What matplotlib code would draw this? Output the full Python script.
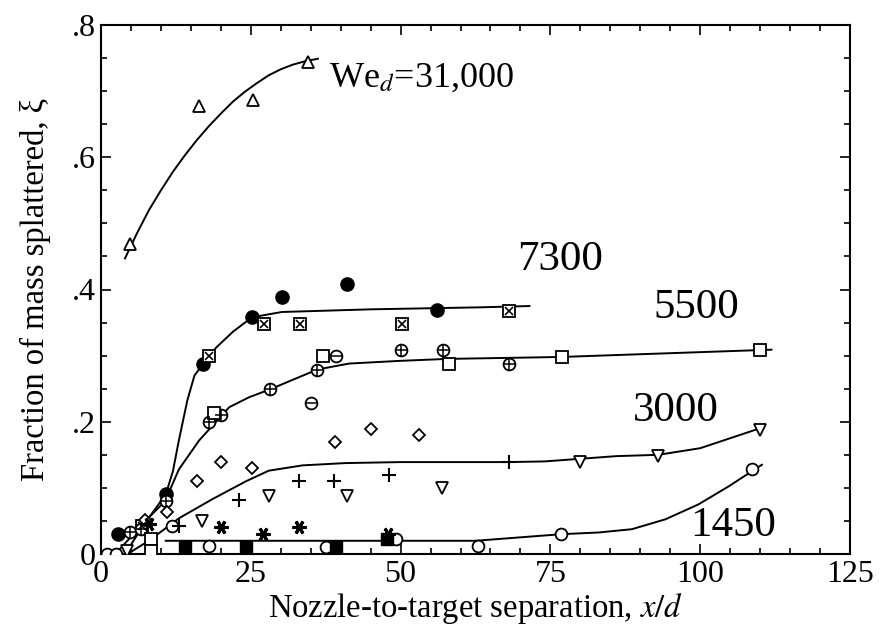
import matplotlib
matplotlib.use("Agg")
import matplotlib.pyplot as plt
from matplotlib.ticker import MultipleLocator, FixedLocator, FixedFormatter

plt.rcParams['font.family'] = ['Liberation Serif', 'DejaVu Serif']
plt.rcParams['mathtext.fontset'] = 'stix'

# ---- We_d = 31,000 (open up-triangles) ----
w31000_x = [4.9, 16.4, 25.4, 34.6]
w31000_y = [0.469, 0.677, 0.687, 0.744]
c31000_x = [4.0, 6.0, 8.0, 10.0, 12.0, 14.0, 16.0, 18.0, 20.0, 22.0, 24.0, 26.0, 28.0, 30.0, 32.0, 34.0, 36.2]
c31000_y = [0.447, 0.485, 0.52, 0.55, 0.578, 0.603, 0.626, 0.647, 0.666, 0.684, 0.699, 0.712, 0.724, 0.733, 0.740, 0.745, 0.749]

# ---- 7300 (filled circles, boxed crosses) ----
w7300_fc_x = [2.8, 10.9, 17.1, 25.2, 30.2, 41.0, 56.1]
w7300_fc_y = [0.031, 0.09, 0.288, 0.358, 0.388, 0.408, 0.369]
w7300_bx_x = [6.8, 18.1, 27.2, 33.2, 50.2, 68.1]
w7300_bx_y = [0.042, 0.299, 0.348, 0.348, 0.348, 0.367]
c7300_x = [4.0, 7.2, 10.8, 12.0, 13.0, 14.4, 15.6, 17.1, 19.2, 22.0, 25.2, 30.2, 45.0, 63.0, 71.5]
c7300_y = [0.0, 0.045, 0.09, 0.125, 0.172, 0.232, 0.27, 0.288, 0.312, 0.336, 0.358, 0.366, 0.37, 0.373, 0.375]

# ---- 5500 (circled plus, squares, circled minus) ----
w5500_cp_x = [4.9, 6.6, 10.8, 18.1, 20.0, 28.2, 36.1, 50.1, 57.0, 68.1]
w5500_cp_y = [0.033, 0.038, 0.08, 0.2, 0.21, 0.249, 0.279, 0.309, 0.309, 0.288]
w5500_sq_x = [8.3, 8.3, 18.9, 37.0, 58.0, 76.9, 110.0]
w5500_sq_y = [0.022, 0.005, 0.213, 0.299, 0.288, 0.298, 0.309]
w5500_cm_x = [35.1, 39.2]
w5500_cm_y = [0.229, 0.299]
c5500_x = [2.7, 7.2, 10.7, 13.0, 16.4, 21.4, 24.7, 28.2, 36.1, 41.4, 49.7, 57.6, 76.9, 111.9]
c5500_y = [0.003, 0.048, 0.08, 0.128, 0.172, 0.222, 0.237, 0.249, 0.279, 0.288, 0.292, 0.295, 0.298, 0.309]

# ---- 3000 (diamonds, plus, down-triangles) ----
w3000_dm_x = [7.4, 11.0, 16.0, 20.0, 25.2, 39.0, 45.0, 53.0]
w3000_dm_y = [0.052, 0.063, 0.11, 0.139, 0.13, 0.17, 0.189, 0.18]
w3000_pl_x = [13.0, 23.0, 33.0, 38.9, 48.1, 68.1]
w3000_pl_y = [0.042, 0.081, 0.11, 0.11, 0.12, 0.139]
w3000_dt_x = [4.4, 16.9, 28.0, 41.0, 56.9, 80.0, 92.9, 110.0]
w3000_dt_y = [0.005, 0.05, 0.088, 0.088, 0.1, 0.139, 0.148, 0.187]
c3000_x = [4.4, 8.0, 13.0, 18.6, 24.2, 28.0, 33.6, 40.8, 50.0, 68.0, 74.0, 86.0, 93.0, 100.0, 110.6]
c3000_y = [0.0, 0.02, 0.054, 0.083, 0.11, 0.126, 0.134, 0.1375, 0.139, 0.139, 0.14, 0.148, 0.15, 0.16, 0.192]

# ---- 1450 (open circles, filled squares, asterisks) ----
w1450_oc_x = [1.0, 2.5, 11.9, 18.0, 37.6, 49.2, 62.9, 76.8, 108.7]
w1450_oc_y = [0.0, 0.0, 0.042, 0.0115, 0.01, 0.0225, 0.0125, 0.031, 0.129]
w1450_fs_x = [14.0, 24.2, 39.2, 47.8]
w1450_fs_y = [0.01, 0.01, 0.01, 0.0225]
w1450_as_x = [8.0, 20.0, 27.0, 33.0, 47.9]
w1450_as_y = [0.045, 0.041, 0.03, 0.041, 0.03]
c1450_x = [10.8, 30.0, 50.0, 62.5, 76.9, 83.0, 88.6, 94.2, 99.7, 104.7, 110.3]
c1450_y = [0.02, 0.02, 0.02, 0.02, 0.03, 0.0325, 0.0375, 0.0525, 0.075, 0.102, 0.135]

xticks = [0, 25, 50, 75, 100, 125]
xticklabels = ['0', '25', '50', '75', '100', '125']
yticks = [0, 0.2, 0.4, 0.6, 0.8]
yticklabels = ['0', '.2', '.4', '.6', '.8']

labels = ['We$_{\\mathit{d}}$=31,000', '7300', '5500', '3000', '1450']
label_x = [38.0, 69.4, 92.2, 88.7, 98.4]
label_y = [0.72, 0.445, 0.372, 0.217, 0.043]

fig = plt.figure(figsize=(8.8, 6.31), dpi=100)
ax = fig.add_axes([101/880, 1 - 554/631, (850 - 101)/880, (554 - 25)/631])

lw = 1.4
for cx, cy in [(c31000_x, c31000_y), (c7300_x, c7300_y), (c5500_x, c5500_y),
               (c3000_x, c3000_y), (c1450_x, c1450_y)]:
    ax.plot(cx, cy, color='black', lw=lw, zorder=2)

ms = 8
mew = 1.3
def opn(x, y, m, size=ms, **kw):
    ax.plot(x, y, linestyle='none', marker=m, markersize=size, markerfacecolor='white',
            markeredgecolor='black', markeredgewidth=mew, zorder=3, **kw)

def line_m(x, y, m, size=ms, width=mew):
    ax.plot(x, y, linestyle='none', marker=m, markersize=size, color='black',
            markeredgewidth=width, zorder=4)

# 31000
opn(w31000_x, w31000_y, '^', size=8.5)
# 7300
ax.plot(w7300_fc_x, w7300_fc_y, linestyle='none', marker='o', markersize=9.5, color='black', zorder=3)
opn(w7300_bx_x, w7300_bx_y, 's', size=8)
line_m(w7300_bx_x, w7300_bx_y, 'x', size=6, width=1.2)
# 5500
opn(w5500_cp_x, w5500_cp_y, 'o', size=8.5)
line_m(w5500_cp_x, w5500_cp_y, '+', size=8.5, width=1.1)
opn(w5500_sq_x, w5500_sq_y, 's', size=9)
opn(w5500_cm_x, w5500_cm_y, 'o', size=8.5)
line_m(w5500_cm_x, w5500_cm_y, '_', size=8.5, width=1.1)
# 3000
opn(w3000_dm_x, w3000_dm_y, 'D', size=6.5)
line_m(w3000_pl_x, w3000_pl_y, '+', size=10, width=1.5)
opn(w3000_dt_x, w3000_dt_y, 'v', size=8.5)
# 1450
opn(w1450_oc_x, w1450_oc_y, 'o', size=8.5)
ax.plot(w1450_fs_x, w1450_fs_y, linestyle='none', marker='s', markersize=8.5, color='black', zorder=3)
line_m(w1450_as_x, w1450_as_y, (6, 2, 90), size=10, width=2.2)

label_sizes = [26, 31, 31, 31, 31]
for t, tx, ty, fs in zip(labels, label_x, label_y, label_sizes):
    ax.text(tx, ty, t, fontsize=fs, ha='left', va='center', color='black')

ax.set_xlim(0, 125)
ax.set_ylim(0, 0.8)
ax.xaxis.set_major_locator(FixedLocator(xticks))
ax.xaxis.set_major_formatter(FixedFormatter(xticklabels))
ax.xaxis.set_minor_locator(MultipleLocator(5))
ax.yaxis.set_major_locator(FixedLocator(yticks))
ax.yaxis.set_major_formatter(FixedFormatter(yticklabels))
ax.yaxis.set_minor_locator(MultipleLocator(0.05))
ax.tick_params(which='both', direction='in', top=True, right=True, width=1.2, labelsize=23)
ax.tick_params(which='major', length=7, pad=4)
ax.tick_params(which='minor', length=4)
for s in ax.spines.values():
    s.set_linewidth(1.5)

ax.set_xlabel('Nozzle-to-target separation, $\\mathit{x/d}$', fontsize=23.5, labelpad=2)
ax.set_ylabel('Fraction of mass splattered, ξ', fontsize=23.5, labelpad=15)

fig.savefig('out.png', dpi=100)
